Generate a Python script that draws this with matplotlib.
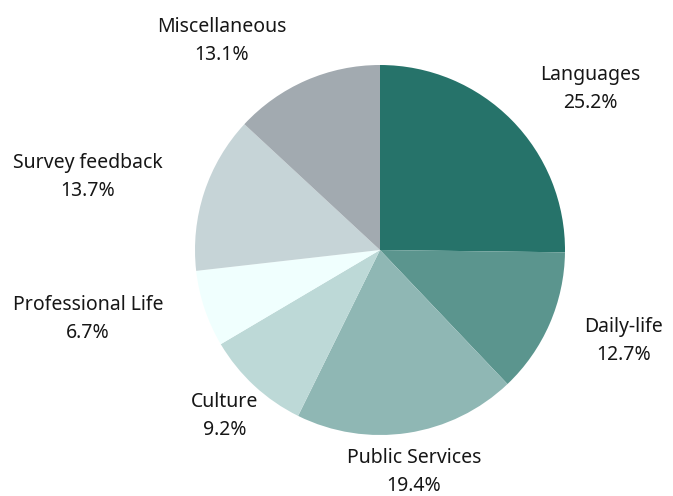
import matplotlib
matplotlib.use('Agg')
import matplotlib.pyplot as plt

plt.rcParams['font.family'] = ['Noto Sans', 'DejaVu Sans']

categories = ['Languages', 'Daily-life', 'Public Services', 'Culture',
              'Professional Life', 'Survey feedback', 'Miscellaneous']
shares = [25.2, 12.7, 19.4, 9.2, 6.7, 13.7, 13.1]
colors = ['#26736A', '#5B958E', '#8FB7B4', '#BDD9D7',
          '#F0FFFE', '#C6D4D7', '#A2AAB0']

# label centres, in pixels of the 673x496 figure
label_px = [(590, 89), (624, 341), (414, 472), (225, 416),
            (88, 319), (88, 177), (222, 41)]

W, H = 673, 496
cx, cy, R = 380, 250, 185

fig = plt.figure(figsize=(W / 100, H / 100), dpi=100)
ax = fig.add_axes([0, 0, 1, 1])
ax.pie(shares, colors=colors, startangle=90, counterclock=False,
       radius=1, center=(0, 0), wedgeprops=dict(linewidth=0))
ax.set_xlim(-cx / R, (W - cx) / R)
ax.set_ylim(-(H - cy) / R, cy / R)
ax.set_aspect('equal')
ax.axis('off')

for name, val, (px, py) in zip(categories, shares, label_px):
    ax.text((px - cx) / R, (cy - py) / R, f'{name}\n{val:.1f}%',
            ha='center', va='center', fontsize=14, color='#161616',
            linespacing=1.5)

fig.savefig('out.png', dpi=100)
